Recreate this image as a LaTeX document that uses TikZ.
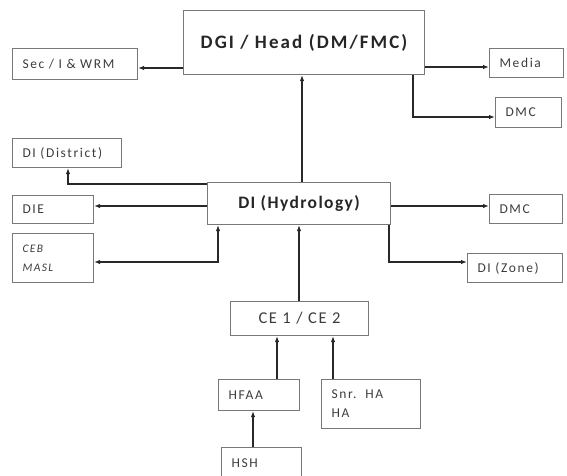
\documentclass[tikz,border=0pt]{standalone}
\usepackage{fontspec}
\setmainfont{Carlito}
\usetikzlibrary{arrows.meta}
\definecolor{boxline}{RGB}{120,120,120}
\definecolor{txt}{RGB}{60,60,60}
\definecolor{conn}{RGB}{40,40,40}
\tikzset{
  box/.style={draw=boxline, line width=1.1pt, anchor=north west, inner xsep=10pt, inner ysep=0pt,
    font=\fontsize{13.5}{19}\selectfont\addfontfeatures{LetterSpace=12}, text=txt, align=left},
  bigbox/.style={draw=boxline, line width=1.1pt, anchor=north west, inner sep=0pt, align=center, text=black!85},
  conn/.style={draw=conn, line width=1.3pt, -{Latex[length=6pt,width=4.5pt]}},
  thick conn/.style={conn, line width=2pt},
}
\newcommand{\bx}[7]{\node[#1, minimum width=#4pt, minimum height=#5pt, text width=#6pt] (#2) at (#3) {#7};}
\begin{document}
\begin{tikzpicture}[x=1pt,y=-1pt]
\useasboundingbox (0,0) rectangle (567,476);
\clip (0,0) rectangle (567,476);
% boxes
\node[bigbox, minimum width=241pt, minimum height=64pt, font=\fontsize{19}{22}\selectfont\bfseries\addfontfeatures{LetterSpace=11}] (dgi) at (183,10) {DGI / Head (DM/FMC)};
\bx{box}{sec}{12,48}{125}{31}{105}{Sec / I \& WRM}
\bx{box}{media}{489,48}{74}{29}{54}{Media}
\bx{box}{dmcA}{495,97}{66}{30}{46}{DMC}
\bx{box}{dist}{12,138}{109}{29}{89}{DI (District)}
\node[bigbox, minimum width=183pt, minimum height=42pt, font=\fontsize{17.5}{20}\selectfont\bfseries\addfontfeatures{LetterSpace=8}] (hyd) at (207,182) {DI (Hydrology)};
\bx{box}{die}{12,195}{81}{28}{61}{DIE}
\bx{box}{ceb}{12,233}{81}{49}{61}{\itshape\fontsize{11.5}{19}\selectfont CEB\\ MASL}
\bx{box}{dmcB}{489,194}{73}{29}{53}{DMC}
\bx{box}{zone}{467,253}{95}{29}{75}{DI (Zone)}
\node[box, align=center, minimum width=138pt, minimum height=34pt, text width=118pt, font=\fontsize{16.5}{19}\selectfont\addfontfeatures{LetterSpace=10}] (ce) at (230,301) {CE 1 / CE 2};
\bx{box}{hfaa}{218,379}{81}{31}{61}{HFAA}
\bx{box}{snr}{321,379}{99}{49}{79}{Snr.~~HA\\HA}
\bx{box}{hsh}{221,447}{80}{32}{60}{HSH}
% connectors
\draw[conn] (dgi.west |- 0,68) -- (sec.east |- 0,68);
\draw[conn] (dgi.east |- 0,67) -- (media.west |- 0,67);
\draw[conn] (dgi.south -| 413,0) |- (dmcA.west |- 0,117);
\draw[conn] (hyd.north -| 302,0) -- (dgi.south -| 302,0);
\draw[conn] (hyd.west |- 0,184) -| (dist.south -| 68,0);
\draw[conn] (hyd.west |- 0,206) -- (die.east |- 0,206);
\draw[thick conn, {Latex[length=6pt,width=4.5pt]}-{Latex[length=6pt,width=4.5pt]}] (ceb.east |- 0,262) -| (hyd.south -| 218,0);
\draw[conn] (hyd.east |- 0,206) -- (dmcB.west |- 0,206);
\draw[thick conn] (hyd.south -| 389,0) |- (zone.west |- 0,262);
\draw[conn] (ce.north -| 299,0) -- (hyd.south -| 299,0);
\draw[conn] (hfaa.north -| 277,0) -- (ce.south -| 277,0);
\draw[thick conn] (snr.north -| 333,0) -- (ce.south -| 333,0);
\draw[conn] (hsh.north -| 253,0) -- (hfaa.south -| 253,0);
\end{tikzpicture}
\end{document}
